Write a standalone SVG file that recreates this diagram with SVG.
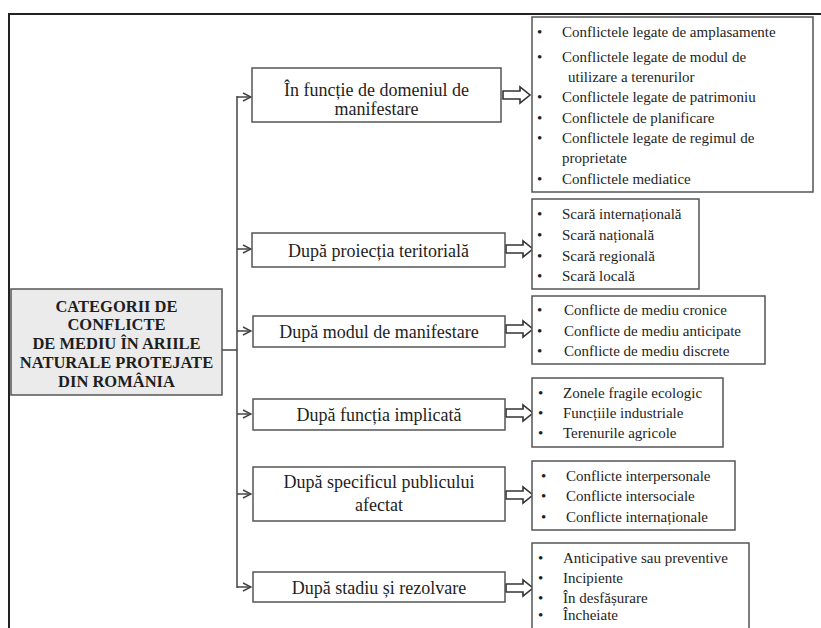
<svg xmlns="http://www.w3.org/2000/svg" width="821" height="628" viewBox="0 0 821 628">
<defs>
<style>
.box{fill:#fff;stroke:#555;stroke-width:1.5}
.root{fill:#ebebeb;stroke:#555;stroke-width:1.5}
.t{font-family:"Liberation Serif","Times New Roman",serif;fill:#1e1e1e}
.n{font-size:18px;text-anchor:middle}
.r{font-size:16.5px;font-weight:bold;text-anchor:middle}
.i{font-size:15px}
.ln{stroke:#444;stroke-width:1.5;fill:none}
.ha{fill:#fff;stroke:#333;stroke-width:1.6;stroke-linejoin:miter}
</style>
<marker id="open" viewBox="0 0 10 10" refX="9" refY="5" markerWidth="10" markerHeight="10" markerUnits="userSpaceOnUse" orient="auto">
<path d="M1,1 L9,5 L1,9" fill="none" stroke="#444" stroke-width="1.4"/>
</marker>
<path id="hollow" d="M0,-4 H17 V-8 L27,0 L17,8 V4 H0 Z"/>
</defs>
<rect width="821" height="628" fill="#fff"/>
<g id="frame">
<path d="M8,14 H821 M9,14 V628" stroke="#222" stroke-width="2" fill="none"/>
</g>
<g id="connectors">
<path class="ln" d="M222,350 H237 M237,96 V588"/>
<path class="ln" d="M237,97 H251" marker-end="url(#open)"/>
<path class="ln" d="M237,249 H251" marker-end="url(#open)"/>
<path class="ln" d="M237,331 H251" marker-end="url(#open)"/>
<path class="ln" d="M237,414 H251" marker-end="url(#open)"/>
<path class="ln" d="M237,494 H251" marker-end="url(#open)"/>
<path class="ln" d="M237,587 H251" marker-end="url(#open)"/>
<use href="#hollow" class="ha" x="503" y="95"/>
<use href="#hollow" class="ha" x="506" y="249"/>
<use href="#hollow" class="ha" x="506" y="329"/>
<use href="#hollow" class="ha" x="506" y="413"/>
<use href="#hollow" class="ha" x="506" y="495"/>
<use href="#hollow" class="ha" x="506" y="588"/>
</g>
<g id="root">
<rect class="root" x="11" y="289" width="211" height="106"/>
<text class="t r" x="116.5" y="312">CATEGORII DE</text>
<text class="t r" x="116.5" y="330">CONFLICTE</text>
<text class="t r" x="116.5" y="349">DE MEDIU ÎN ARIILE</text>
<text class="t r" x="116.5" y="368">NATURALE PROTEJATE</text>
<text class="t r" x="116.5" y="387">DIN ROMÂNIA</text>
</g>
<g id="n1">
<rect class="box" x="252" y="68" width="249" height="54"/>
<text class="t n" x="376.5" y="96">În funcție de domeniul de</text>
<text class="t n" x="376.5" y="115">manifestare</text>
</g>
<g id="n2">
<rect class="box" x="252" y="233" width="253" height="34"/>
<text class="t n" x="378.5" y="257">După proiecția teritorială</text>
</g>
<g id="n3">
<rect class="box" x="253" y="316" width="252" height="31"/>
<text class="t n" x="379" y="338">După modul de manifestare</text>
</g>
<g id="n4">
<rect class="box" x="253" y="399" width="252" height="31"/>
<text class="t n" x="379" y="421">După funcția implicată</text>
</g>
<g id="n5">
<rect class="box" x="253" y="467" width="252" height="54"/>
<text class="t n" x="379" y="488">După specificul publicului</text>
<text class="t n" x="379" y="511">afectat</text>
</g>
<g id="n6">
<rect class="box" x="253" y="572" width="252" height="30"/>
<text class="t n" x="379" y="594">După stadiu și rezolvare</text>
</g>
<g id="l1">
<rect class="box" x="532" y="17" width="281" height="175"/>
<text class="t i" x="537" y="37">•</text><text class="t i" x="562" y="37">Conflictele  legate  de amplasamente</text>
<text class="t i" x="537" y="62">•</text><text class="t i" x="562" y="62">Conflictele  legate  de modul de</text>
<text class="t i" x="568" y="82">utilizare  a terenurilor</text>
<text class="t i" x="537" y="102">•</text><text class="t i" x="562" y="102">Conflictele  legate  de patrimoniu</text>
<text class="t i" x="537" y="123">•</text><text class="t i" x="562" y="123">Conflictele  de planificare</text>
<text class="t i" x="537" y="143">•</text><text class="t i" x="562" y="143">Conflictele  legate  de regimul  de</text>
<text class="t i" x="562" y="163">proprietate</text>
<text class="t i" x="537" y="184">•</text><text class="t i" x="562" y="184">Conflictele  mediatice</text>
</g>
<g id="l2">
<rect class="box" x="532" y="199" width="167" height="90"/>
<text class="t i" x="537" y="219">•</text><text class="t i" x="562" y="219">Scară internațională</text>
<text class="t i" x="537" y="240">•</text><text class="t i" x="562" y="240">Scară  națională</text>
<text class="t i" x="537" y="261">•</text><text class="t i" x="562" y="261">Scară regională</text>
<text class="t i" x="537" y="281">•</text><text class="t i" x="562" y="281">Scară locală</text>
</g>
<g id="l3">
<rect class="box" x="532" y="296" width="233" height="68"/>
<text class="t i" x="537" y="315">•</text><text class="t i" x="564" y="315">Conflicte de mediu  cronice</text>
<text class="t i" x="537" y="336">•</text><text class="t i" x="564" y="336">Conflicte de mediu  anticipate</text>
<text class="t i" x="537" y="356">•</text><text class="t i" x="564" y="356">Conflicte de mediu  discrete</text>
</g>
<g id="l4">
<rect class="box" x="532" y="378" width="191" height="69"/>
<text class="t i" x="538" y="398">•</text><text class="t i" x="563" y="398">Zonele fragile  ecologic</text>
<text class="t i" x="538" y="418">•</text><text class="t i" x="563" y="418">Funcțiile  industriale</text>
<text class="t i" x="538" y="438">•</text><text class="t i" x="563" y="438">Terenurile  agricole</text>
</g>
<g id="l5">
<rect class="box" x="532" y="461" width="203" height="69"/>
<text class="t i" x="541" y="481">•</text><text class="t i" x="566" y="481">Conflicte interpersonale</text>
<text class="t i" x="541" y="501">•</text><text class="t i" x="566" y="501">Conflicte intersociale</text>
<text class="t i" x="541" y="522">•</text><text class="t i" x="566" y="522">Conflicte internaționale</text>
</g>
<g id="l6">
<rect class="box" x="532" y="543" width="217" height="95"/>
<text class="t i" x="538" y="563">•</text><text class="t i" x="563" y="563">Anticipative  sau preventive</text>
<text class="t i" x="538" y="583">•</text><text class="t i" x="563" y="583">Incipiente</text>
<text class="t i" x="538" y="603">•</text><text class="t i" x="563" y="603">În desfășurare</text>
<text class="t i" x="538" y="620">•</text><text class="t i" x="563" y="620">Încheiate</text>
</g>
</svg>
